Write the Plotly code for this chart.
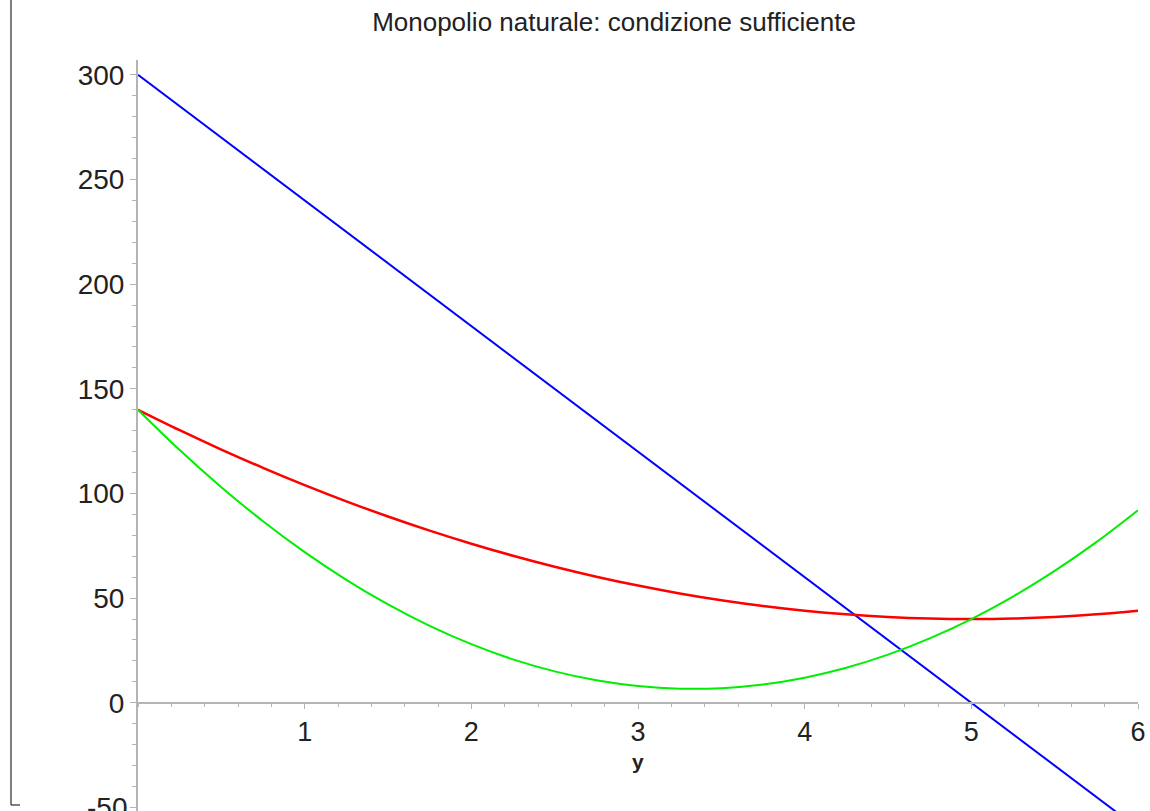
import plotly.graph_objects as go

# Quantity grid and the three curves read at each step
q = [0, 0.25, 0.5, 0.75, 1, 1.25, 1.5, 1.75, 2, 2.25, 2.5, 2.75, 3,
     3.25, 3.5, 3.75, 4, 4.25, 4.5, 4.75, 5, 5.25, 5.5, 5.75, 6]
costo_medio = [140, 130.25, 121, 112.25, 104, 96.25, 89, 82.25, 76, 70.25, 65,
               60.25, 56, 52.25, 49, 46.25, 44, 42.25, 41, 40.25, 40, 40.25,
               41, 42.25, 44]
costo_marginale = [140, 120.75, 103, 86.75, 72, 58.75, 47, 36.75, 28, 20.75, 15,
                   10.75, 8, 6.75, 7, 8.75, 12, 16.75, 23, 30.75, 40, 50.75,
                   63, 76.75, 92]
q_domanda = [0, 6]
domanda = [300, -60]

x_ticks = [1, 2, 3, 4, 5, 6]
y_ticks = [0, 50, 100, 150, 200, 250, 300]
y_tick_bottom = -50

W, H = 1150, 811
L, R, T, B = 138, 12, 60, 0
y_lo, y_hi = -51.7, 307.1
x_axis_pos = (0 - y_lo) / (y_hi - y_lo)

font_main = "Liberation Sans, Arial, sans-serif"

fig = go.Figure()
fig.add_trace(go.Scatter(x=q_domanda, y=domanda, mode="lines",
                         line=dict(color="#0000ff", width=2), showlegend=False))
fig.add_trace(go.Scatter(x=q, y=costo_medio, mode="lines",
                         line=dict(color="#ff0000", width=2.5, shape="spline"),
                         showlegend=False))
fig.add_trace(go.Scatter(x=q, y=costo_marginale, mode="lines",
                         line=dict(color="#00ee00", width=2, shape="spline"),
                         showlegend=False))

fig.update_layout(
    width=W, height=H,
    margin=dict(l=L, r=R, t=T, b=B),
    paper_bgcolor="white", plot_bgcolor="white",
    font=dict(family=font_main, size=28, color="#222"),
    title=dict(text="Monopolio naturale: condizione sufficiente",
               x=614 / W, xanchor="center", y=1 - 22 / H, yanchor="middle",
               font=dict(family=font_main, size=26, color="#222")),
    xaxis=dict(range=[0, 6], anchor="free", position=x_axis_pos,
               showgrid=False, zeroline=False,
               showline=True, linecolor="#b4b4b4", linewidth=2,
               tickmode="array", tickvals=x_ticks,
               ticks="outside", ticklen=5, tickcolor="#b4b4b4", tickwidth=1,
               ticklabelstandoff=0,
               minor=dict(dtick=0.2, ticks="outside", ticklen=3,
                          tickcolor="#b4b4b4", showgrid=False),
               tickfont=dict(size=27, color="#222")),
    yaxis=dict(range=[y_lo, y_hi], showgrid=False, zeroline=False,
               showline=True, linecolor="#b4b4b4", linewidth=2,
               tickmode="array", tickvals=[y_tick_bottom] + y_ticks,
               ticktext=[""] + [str(v) for v in y_ticks],
               ticks="outside", ticklen=6, tickcolor="#b4b4b4", tickwidth=1,
               ticklabelstandoff=0,
               minor=dict(dtick=10, ticks="outside", ticklen=4,
                          tickcolor="#b4b4b4", showgrid=False),
               tickfont=dict(size=28, color="#222")),
)

pw = W - L - R
ph = H - T - B


def px(xp):
    return (xp - L) / pw


def py(yp):
    return (H - B - yp) / ph


# Bottom tick label, partly cut by the lower edge
fig.add_annotation(text=str(y_tick_bottom), xref="paper", yref="y",
                   x=px(129), y=y_tick_bottom, xanchor="right",
                   yanchor="middle", showarrow=False,
                   font=dict(size=28, color="#222"))

# Axis name under the horizontal axis
fig.add_annotation(text="<b>y</b>", xref="x", yref="paper", x=3,
                   y=py(761), showarrow=False,
                   yanchor="middle", font=dict(size=21, color="#222"))

# Frame bracket on the left edge
fig.add_shape(type="line", xref="paper", yref="paper",
              x0=px(11), x1=px(11), y0=py(-2), y1=py(805),
              line=dict(color="#555", width=1.5))
fig.add_shape(type="line", xref="paper", yref="paper",
              x0=px(11), x1=px(20), y0=py(805), y1=py(805),
              line=dict(color="#555", width=1.5))

fig.write_html("out.html")
